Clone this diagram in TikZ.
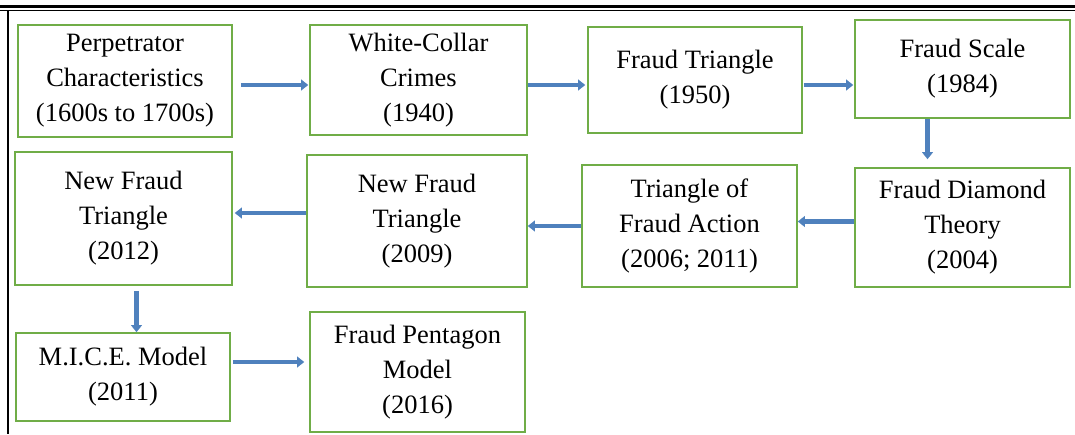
\documentclass[tikz,border=0pt]{standalone}
\usepackage{fontspec}
\setmainfont{Liberation Serif}
\usetikzlibrary{arrows.meta}
\definecolor{boxgreen}{RGB}{112,173,71}
\definecolor{arrowblue}{RGB}{79,129,189}
\tikzset{stage/.style = {draw=boxgreen, line width=1.8pt, align=center, inner sep=0pt,
    font=\fontsize{26.5}{35}\selectfont},
  flow/.style = {draw=arrowblue, line width=4.5pt,
    -{Triangle[length=7pt,width=11pt,line width=0.1pt]}}}
\begin{document}
\begin{tikzpicture}[x=1pt, y=-1pt]
  \useasboundingbox (0,0) rectangle (1075,434);
  % frame
  \draw[line width=3pt] (0,6) -- (1075,6);
  \draw[line width=1pt] (0,10.5) -- (1075,10.5);
  \draw[line width=2pt] (8,10) -- (8,434);
  % first row
  \node[stage, minimum width=214pt, minimum height=112pt] (persp) at (125,81)
    {Perpetrator\\Characteristics\\(1600s to 1700s)};
  \node[stage, minimum width=217pt, minimum height=110pt] (wcc) at (418.5,80)
    {White-Collar\\Crimes\\(1940)};
  \node[stage, minimum width=214pt, minimum height=106pt] (ftri) at (695,80)
    {Fraud Triangle\\(1950)};
  \node[stage, minimum width=215pt, minimum height=98pt] (fscale) at (962.5,69)
    {Fraud Scale\\(1984)};
  % second row
  \node[stage, minimum width=215pt, minimum height=119pt] (fdiam) at (962.5,227.5)
    {Fraud Diamond\\Theory\\(2004)};
  \node[stage, minimum width=215pt, minimum height=122pt] (tfa) at (689.5,226)
    {Triangle of\\Fraud Action\\(2006; 2011)};
  \node[stage, minimum width=220pt, minimum height=132pt] (nftnine) at (417,221)
    {New Fraud\\Triangle\\(2009)};
  \node[stage, minimum width=217pt, minimum height=133pt] (nfttwelve) at (123.5,218.5)
    {New Fraud\\Triangle\\(2012)};
  % third row
  \node[stage, minimum width=214pt, minimum height=88pt] (mice) at (123,377)
    {M.I.C.E. Model\\(2011)};
  \node[stage, minimum width=215pt, minimum height=120pt] (fpent) at (417.5,372)
    {Fraud Pentagon\\Model\\(2016)};
  % arrows
  \draw[flow, shorten <=8pt, shorten >=1pt] ([yshift=-4pt]persp.east) -- ([yshift=-4pt]persp.east -| wcc.west);
  \draw[flow, shorten >=2pt] ([yshift=-5pt]wcc.east) -- ([yshift=-5pt]wcc.east -| ftri.west);
  \draw[flow, shorten <=1pt, shorten >=1pt] ([yshift=-5pt]ftri.east) -- ([yshift=-5pt]ftri.east -| fscale.west);
  \draw[flow, shorten >=8pt] ([xshift=-35pt]fscale.south) -- ([xshift=-35pt]fscale.south |- fdiam.north);
  \draw[flow] ([yshift=6pt]fdiam.west) -- ([yshift=6pt]fdiam.west -| tfa.east);
  \draw[flow] (tfa.west) -- (tfa.west -| nftnine.east);
  \draw[flow, shorten >=2pt] ([yshift=8pt]nftnine.west) -- ([yshift=8pt]nftnine.west -| nfttwelve.east);
  \draw[flow, shorten <=5pt] ([xshift=13pt]nfttwelve.south) -- ([xshift=13pt]nfttwelve.south |- mice.north);
  \draw[flow, shorten <=2pt, shorten >=5pt] ([yshift=15pt]mice.east) -- ([yshift=15pt]mice.east -| fpent.west);
\end{tikzpicture}
\end{document}
